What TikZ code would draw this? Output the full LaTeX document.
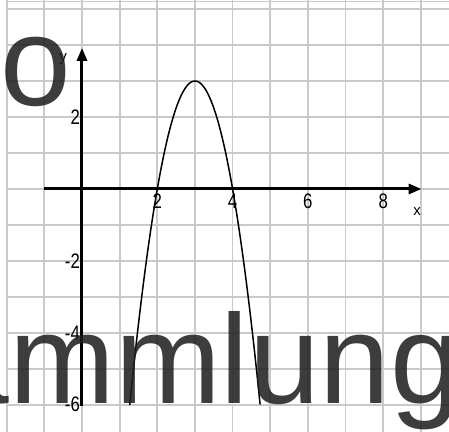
\documentclass[tikz,border=0pt]{standalone}
\usepackage{fontspec}
\setmainfont{Liberation Sans}
\usetikzlibrary{arrows.meta}
\definecolor{gridgray}{RGB}{202,202,202}
\definecolor{bigtext}{RGB}{30,30,30}
\begin{document}
\begin{tikzpicture}[x=37.65bp,y=36bp,
  gridline/.style={draw=gridgray,line width=1.8bp},
  axisline/.style={line width=3bp,-{Triangle[length=13bp,width=10bp]}},
  curveline/.style={line width=1.5bp},
  ticklabel/.style={inner sep=0pt,font=\fontsize{21bp}{21bp}\selectfont},
  axislabel/.style={inner sep=0pt,font=\fontsize{15bp}{15bp}\selectfont},
  bigword/.style={inner sep=0pt,text=bigtext,text opacity=0.86,font=\fontsize{127bp}{127bp}\selectfont}]
\useasboundingbox (-2.178,-6.75) rectangle (9.748,5.25);
\clip (-2.178,-6.75) rectangle (9.748,5.25);
\fill[white] (-2.178,-6.75) rectangle (9.748,5.25);
% grid
\foreach \i in {-2,...,9} \draw[gridline] (\i,-6.75) -- (\i,5.25);
\foreach \j in {-6,...,5} \draw[gridline] (-2,\j) -- (9.748,\j);
\draw[gridline] (-2,5.208) -- (9.748,5.208);
% axes
\coordinate (xstart) at (-1.01,0);
\coordinate (xend) at (9.02,0);
\coordinate (ystart) at (0,-6.02);
\coordinate (yend) at (0,3.92);
\draw[axisline] (xstart) -- (xend);
\draw[axisline] (ystart) -- (yend);
% parabola
\draw[curveline,domain=1.268:4.732,samples=120] plot (\x,{-3*(\x-3)^2+3});
% tick labels
\foreach \v in {2,4,6,8}
  \node[ticklabel] (xt\v) at (\v,-0.33) {\scalebox{0.8}[1]{\v}};
\node[ticklabel,anchor=east] (yt2) at (-0.05,2) {\scalebox{0.8}[1]{2}};
\node[ticklabel,anchor=east] (ytm2) at (-0.05,-2) {\scalebox{0.8}[1]{-2}};
\node[ticklabel,anchor=east] (ytm4) at (-0.05,-4) {\scalebox{0.8}[1]{-4}};
\node[ticklabel,anchor=east] (ytm6) at (-0.05,-5.97) {\scalebox{0.8}[1]{-6}};
\node[axislabel] (xlab) at (8.9,-0.63) {x};
\node[axislabel] (ylab) at (-0.5,3.6) {y};
% overlay words
\node[bigword,anchor=base west] (wordo) at (-2.165,2.333) {o};
\node[bigword,anchor=base west] (wordb) at (-3.811,-5.972) {ammlung};
\end{tikzpicture}
\end{document}
